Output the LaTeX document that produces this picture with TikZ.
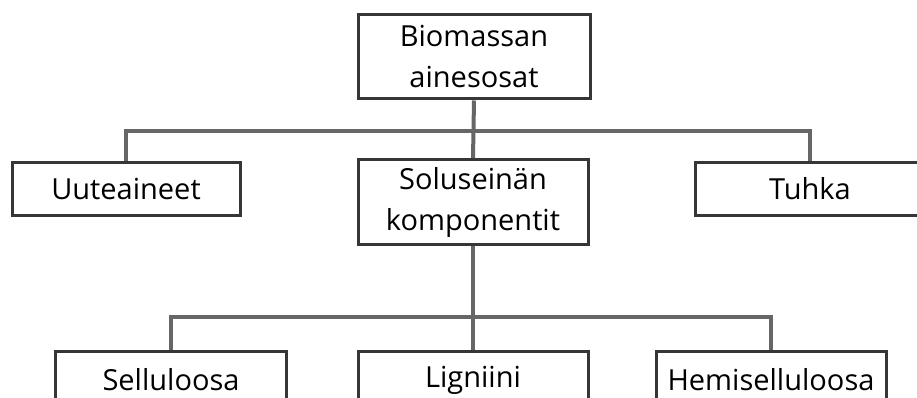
\documentclass[tikz,border=0pt]{standalone}
\usepackage{fontspec}
\setmainfont{Open Sans}
\begin{document}
\begin{tikzpicture}[x=1pt,y=-1pt,font=\fontsize{29}{41}\selectfont,
    osa/.style={draw=osaline,line width=3pt,fill=white,align=center,inner sep=0pt},
    haara/.style={draw=haaraline,line width=4pt}]
  \definecolor{osaline}{HTML}{363636}
  \definecolor{haaraline}{HTML}{666666}

  \useasboundingbox (0,0) rectangle (917,398);
  \clip (0,0) rectangle (917,398);

  % laatikot
  \node[osa,minimum width=232pt,minimum height=84pt] (biomassa) at (474,57) {Biomassan\\ainesosat};
  \node[osa,minimum width=228pt,minimum height=52pt] (uute) at (126,189) {Uuteaineet};
  \node[osa,minimum width=230pt,minimum height=85pt] (solu) at (473,202) {Soluseinän\\komponentit};
  \node[osa,minimum width=230pt,minimum height=52pt] (tuhka) at (810,189) {Tuhka};
  \node[osa,minimum width=231pt,minimum height=58pt] (sellu) at (171,380) {Selluloosa};
  \node[osa,minimum width=230pt,minimum height=58pt] (ligniini) at (473,380) {Ligniini};
  \node[osa,minimum width=230pt,minimum height=58pt] (hemi) at (771,380) {Hemiselluloosa};

  \coordinate (ylakisko) at (474,131);
  \coordinate (alakisko) at (474,317);

  % haarat
  \draw[haara] (biomassa.south) -- (solu.north);
  \draw[haara] (uute.north) -- (uute.north |- ylakisko) -- (tuhka.north |- ylakisko) -- (tuhka.north);
  \draw[haara] (solu.south) -- (ligniini.north);
  \draw[haara] (sellu.north) -- (sellu.north |- alakisko) -- (hemi.north |- alakisko) -- (hemi.north);
\end{tikzpicture}
\end{document}
